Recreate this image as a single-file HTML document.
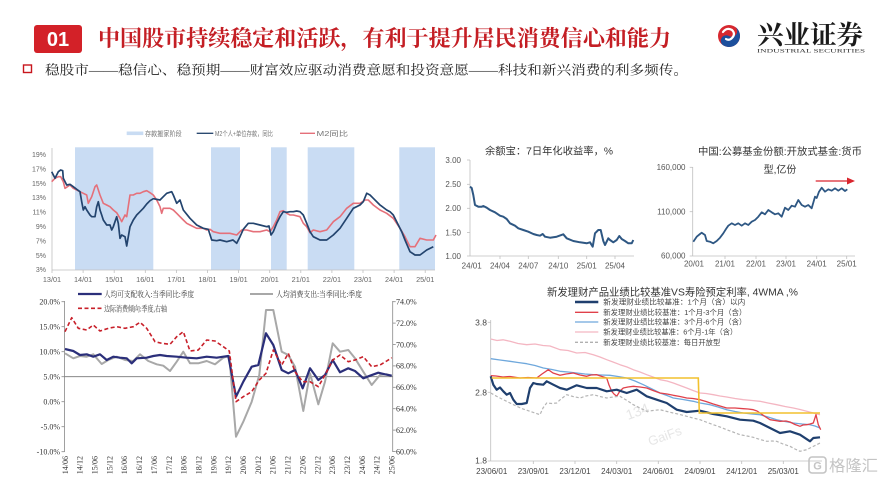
<!DOCTYPE html>
<html>
<head>
<meta charset="utf-8">
<style>
  html,body{margin:0;padding:0;background:#fff;}
  body{width:884px;height:483px;overflow:hidden;}
  svg{display:block;}
  .cj{font-family:"Liberation Sans","Noto Sans CJK SC",sans-serif;}
  .sf{font-family:"Liberation Serif","Noto Serif CJK SC",serif;}
</style>
</head>
<body>
<svg width="884" height="483" viewBox="0 0 884 483" xmlns="http://www.w3.org/2000/svg">
  <rect width="884" height="483" fill="#ffffff"/>

  <!-- ===== HEADER ===== -->
  <rect x="34" y="25" width="48" height="28" rx="3" fill="#d32128"/>
  <text x="58" y="46" text-anchor="middle" font-family="Liberation Sans, sans-serif" font-weight="bold" font-size="20" fill="#ffffff">01</text>
  <text x="98" y="46" font-family="Liberation Serif, 'Noto Serif CJK SC', serif" font-weight="bold" font-size="22" fill="#c41e24" textLength="573" lengthAdjust="spacingAndGlyphs">中国股市持续稳定和活跃，有利于提升居民消费信心和能力</text>

  <rect x="23.5" y="65" width="8" height="7.5" fill="none" stroke="#c8161d" stroke-width="1.4"/>
  <text x="45" y="74.5" font-family="Liberation Serif, 'Noto Serif CJK SC', serif" font-size="13" fill="#222" textLength="643" lengthAdjust="spacingAndGlyphs">稳股市——稳信心、稳预期——财富效应驱动消费意愿和投资意愿——科技和新兴消费的利多频传。</text>

  <!-- logo -->
  <g transform="translate(729,36)">
    <circle r="11" fill="#d7282f"/>
    <path d="M 0 -11 A 11 11 0 0 1 0 11 A 5.5 5.5 0 0 1 0 0 A 5.5 5.5 0 0 0 0 -11 Z" fill="#1c4f9c" transform="rotate(30)"/>
    <path d="M -6 -4 Q -2 -9 3 -6 Q 7 -2 3 2 Q 0 5 -3 3" fill="none" stroke="#ffffff" stroke-width="2.2" stroke-linecap="round"/>
  </g>
  <text x="757" y="44" font-family="Liberation Serif, 'Noto Serif CJK SC', serif" font-weight="bold" font-size="26" fill="#1a1a1a" textLength="106" lengthAdjust="spacingAndGlyphs">兴业证券</text>
  <text x="757" y="52.5" font-family="Liberation Serif, serif" font-size="5.6" fill="#333" textLength="108" lengthAdjust="spacingAndGlyphs">INDUSTRIAL SECURITIES</text>

  <!-- ===== TOP-LEFT CHART ===== -->
  <g>
    <rect x="126.7" y="131.5" width="16.6" height="3.6" fill="#c9dcf3"/>
    <text x="145" y="135.8" class="cj" font-size="7" fill="#777" textLength="36.7" lengthAdjust="spacingAndGlyphs">存款搬家阶段</text>
    <line x1="196.7" y1="133.3" x2="213.3" y2="133.3" stroke="#2b4a70" stroke-width="1.4"/>
    <text x="215" y="135.8" class="cj" font-size="7" fill="#777" textLength="58" lengthAdjust="spacingAndGlyphs">M2个人+单位存款，同比</text>
    <line x1="300" y1="133.3" x2="315" y2="133.3" stroke="#e5707a" stroke-width="1.4"/>
    <text x="316.5" y="135.8" class="cj" font-size="7" fill="#777" textLength="31.5" lengthAdjust="spacingAndGlyphs">M2同比</text>

    <g fill="#c9dcf3">
      <rect x="75" y="147.3" width="78.3" height="122.7"/>
      <rect x="211" y="147.3" width="29" height="122.7"/>
      <rect x="271" y="147.3" width="15.7" height="122.7"/>
      <rect x="307.7" y="147.3" width="46.6" height="122.7"/>
      <rect x="399.3" y="147.3" width="35.7" height="122.7"/>
    </g>
    <line x1="52" y1="148" x2="52" y2="270" stroke="#bfbfbf" stroke-width="0.8"/>
    <line x1="52" y1="270" x2="435" y2="270" stroke="#bfbfbf" stroke-width="0.8"/>
    <g stroke="#bfbfbf" stroke-width="0.8">
      <line x1="52" y1="270" x2="52" y2="273"/><line x1="83.1" y1="270" x2="83.1" y2="273"/>
      <line x1="114.2" y1="270" x2="114.2" y2="273"/><line x1="145.3" y1="270" x2="145.3" y2="273"/>
      <line x1="176.4" y1="270" x2="176.4" y2="273"/><line x1="207.5" y1="270" x2="207.5" y2="273"/>
      <line x1="238.6" y1="270" x2="238.6" y2="273"/><line x1="269.7" y1="270" x2="269.7" y2="273"/>
      <line x1="300.8" y1="270" x2="300.8" y2="273"/><line x1="331.9" y1="270" x2="331.9" y2="273"/>
      <line x1="363" y1="270" x2="363" y2="273"/><line x1="394.1" y1="270" x2="394.1" y2="273"/>
      <line x1="425.2" y1="270" x2="425.2" y2="273"/>
    </g>
    <g class="cj" font-size="7" fill="#666" text-anchor="end">
      <text x="46" y="156.8">19%</text>
      <text x="46" y="171.5">17%</text>
      <text x="46" y="185.8">15%</text>
      <text x="46" y="200.2">13%</text>
      <text x="46" y="214.5">11%</text>
      <text x="46" y="228.8">9%</text>
      <text x="46" y="243.5">7%</text>
      <text x="46" y="257.8">5%</text>
      <text x="46" y="272.2">3%</text>
    </g>
    <g class="cj" font-size="7.3" fill="#666" text-anchor="middle">
      <text x="52" y="282">13/01</text><text x="83.1" y="282">14/01</text>
      <text x="114.2" y="282">15/01</text><text x="145.3" y="282">16/01</text>
      <text x="176.4" y="282">17/01</text><text x="207.5" y="282">18/01</text>
      <text x="238.6" y="282">19/01</text><text x="269.7" y="282">20/01</text>
      <text x="300.8" y="282">21/01</text><text x="331.9" y="282">22/01</text>
      <text x="363" y="282">23/01</text><text x="394.1" y="282">24/01</text>
      <text x="425.2" y="282">25/01</text>
    </g>
    <polyline fill="none" stroke="#e5707a" stroke-width="1.6" stroke-linejoin="round" points="51.7,181.7 55,178.3 58.3,176.7 60.7,176.7 63.3,181.7 65,188.3 70,185 73.3,188.3 80,191.7 83.3,193.3 86.7,195 88.3,203.3 91.7,196.7 95,186.7 96.7,185 100,195 103.3,203.3 106.7,205 110,206.7 113.3,210 116.7,212.7 120,218.3 121.7,221.7 125,215 126.7,216.7 130,195 133.3,195 136.7,193.3 140,193.3 143.3,191.7 146.7,190.7 150,192.7 153.3,195 156.7,200 160,206.7 161.7,213.3 163.3,208.3 166.7,208.3 170,208.3 173.3,210 176.7,213.3 180,216.7 183.3,220 186.7,223.3 190,225 196.7,228.3 203.3,228.3 206.7,230 210,229.3 213.3,231.7 220,233.3 230,233.3 236.7,235 241.7,230 246.7,230 253.3,231.7 260,231.7 266.7,230 270,231.7 273.3,226.7 276.7,220 280,211.7 283.3,210.7 286.7,213.3 290,215 293.3,215 300,216.7 303.3,223.3 306.7,226.7 310,232.7 313.3,230 320,231.7 326.7,230 333.3,221.7 340,216.7 346.7,208.3 353.3,203.3 360,203.3 365,200 368.3,200 373.3,205 380,210 386.7,213.3 393.3,218.3 400,228.3 405,236.7 410,246.7 415,246.7 420,238.3 426.7,240 433.3,240 436,235"/>
    <polyline fill="none" stroke="#23446e" stroke-width="1.7" stroke-linejoin="round" points="51.7,171.7 55,178.3 58.3,171.7 60.7,170 62.7,170.7 63.3,178.3 66.7,185 70,184.3 73.3,186.7 76.7,189.3 80,191.7 81.7,201.7 83.3,210 85,206.7 86.7,210 90,215 91.7,216.7 95,216.7 96.7,206.7 98.3,201.7 100,210 101.7,215 103.3,220 106.7,225 110,225 111.7,230 113.3,226.7 115,221.7 116.7,216.7 118.3,223.3 120,238.3 121.7,235 125,236.7 126.7,246 128.3,236.7 130,226.7 133.3,220 136.7,215 140,211.7 143.3,208.3 146.7,204 150,200.7 153.3,198.7 160,200 163.3,196.7 166.7,193.3 171.7,191.7 173.3,195 176.7,203.3 180,200 183.3,210 190,218.3 196.7,225 203.3,228.3 208.3,229.3 211.7,240 216.7,240.7 220,240 226.7,241.7 233,240 236.7,243.3 240,236.7 243.3,229.3 248.3,223.3 253.3,223.3 260,225 266.7,226.7 269,226 271,235 273.3,231.7 276.7,223.3 280,216.7 283.3,211.7 286.7,212.3 290,211.7 293.3,211.7 296.7,211 300,211.7 303.3,215 306.7,223.3 310,231.7 313.3,236.7 320,240 326.7,240 333.3,235 340,228.3 346.7,218.3 353.3,208.3 360,205 363.3,201.7 366.7,193.3 370,195 373.3,198.3 380,205 386.7,210 390,211.7 393.3,215 396.7,221.7 401.7,231.7 405,240 410,251.7 415,255 420,255 426.7,250 433.3,246.7"/>
  </g>

  <!-- ===== BOTTOM-LEFT CHART ===== -->
  <g>
    <line x1="78" y1="294" x2="101.7" y2="294" stroke="#2b2f7a" stroke-width="2.2"/>
    <text x="104" y="297" class="sf" font-size="8" fill="#333" textLength="90" lengthAdjust="spacingAndGlyphs">人均可支配收入:当季同比:季度</text>
    <line x1="250" y1="294" x2="273" y2="294" stroke="#a8a8a8" stroke-width="2"/>
    <text x="276" y="297" class="sf" font-size="8" fill="#333" textLength="86" lengthAdjust="spacingAndGlyphs">人均消费支出:当季同比:季度</text>
    <line x1="78" y1="308.3" x2="101.7" y2="308.3" stroke="#c8202a" stroke-width="1.6" stroke-dasharray="4,2.5"/>
    <text x="104" y="311.3" class="sf" font-size="8" fill="#333" textLength="63" lengthAdjust="spacingAndGlyphs">边际消费倾向:季度,右轴</text>

    <line x1="64.5" y1="301" x2="64.5" y2="452" stroke="#888" stroke-width="0.8"/>
    <line x1="392.7" y1="301" x2="392.7" y2="452" stroke="#888" stroke-width="0.8"/>
    <line x1="64.5" y1="376.7" x2="392.7" y2="376.7" stroke="#777" stroke-width="0.8"/>
    <g stroke="#888" stroke-width="0.8">
      <line x1="61.5" y1="301.7" x2="64.5" y2="301.7"/><line x1="61.5" y1="326.7" x2="64.5" y2="326.7"/>
      <line x1="61.5" y1="351.7" x2="64.5" y2="351.7"/><line x1="61.5" y1="376.7" x2="64.5" y2="376.7"/>
      <line x1="61.5" y1="401.7" x2="64.5" y2="401.7"/><line x1="61.5" y1="426.7" x2="64.5" y2="426.7"/>
      <line x1="61.5" y1="451.7" x2="64.5" y2="451.7"/>
      <line x1="392.7" y1="301.7" x2="395.7" y2="301.7"/><line x1="392.7" y1="323.1" x2="395.7" y2="323.1"/>
      <line x1="392.7" y1="344.5" x2="395.7" y2="344.5"/><line x1="392.7" y1="365.9" x2="395.7" y2="365.9"/>
      <line x1="392.7" y1="387.3" x2="395.7" y2="387.3"/><line x1="392.7" y1="408.7" x2="395.7" y2="408.7"/>
      <line x1="392.7" y1="430.1" x2="395.7" y2="430.1"/><line x1="392.7" y1="451.5" x2="395.7" y2="451.5"/>
    </g>
    <g class="sf" font-size="8" fill="#333" text-anchor="end">
      <text x="60" y="304.5">20.0%</text>
      <text x="60" y="329.5">15.0%</text>
      <text x="60" y="354.5">10.0%</text>
      <text x="60" y="379.5">5.0%</text>
      <text x="60" y="404.5">0.0%</text>
      <text x="60" y="429.5">-5.0%</text>
      <text x="60" y="454.5">-10.0%</text>
    </g>
    <g class="sf" font-size="8" fill="#333">
      <text x="396" y="304.5">74.0%</text>
      <text x="396" y="325.9">72.0%</text>
      <text x="396" y="347.3">70.0%</text>
      <text x="396" y="368.7">68.0%</text>
      <text x="396" y="390.1">66.0%</text>
      <text x="396" y="411.5">64.0%</text>
      <text x="396" y="432.9">62.0%</text>
      <text x="396" y="454.3">60.0%</text>
    </g>
    <g class="sf" font-size="8" fill="#333" text-anchor="end">
      <text transform="translate(67.8,456) rotate(-90)">14/06</text>
      <text transform="translate(82.65,456) rotate(-90)">14/12</text>
      <text transform="translate(97.5,456) rotate(-90)">15/06</text>
      <text transform="translate(112.35,456) rotate(-90)">15/12</text>
      <text transform="translate(127.2,456) rotate(-90)">16/06</text>
      <text transform="translate(142.05,456) rotate(-90)">16/12</text>
      <text transform="translate(156.9,456) rotate(-90)">17/06</text>
      <text transform="translate(171.75,456) rotate(-90)">17/12</text>
      <text transform="translate(186.6,456) rotate(-90)">18/06</text>
      <text transform="translate(201.45,456) rotate(-90)">18/12</text>
      <text transform="translate(216.3,456) rotate(-90)">19/06</text>
      <text transform="translate(231.15,456) rotate(-90)">19/12</text>
      <text transform="translate(246,456) rotate(-90)">20/06</text>
      <text transform="translate(260.85,456) rotate(-90)">20/12</text>
      <text transform="translate(275.7,456) rotate(-90)">21/06</text>
      <text transform="translate(290.55,456) rotate(-90)">21/12</text>
      <text transform="translate(305.4,456) rotate(-90)">22/06</text>
      <text transform="translate(320.25,456) rotate(-90)">22/12</text>
      <text transform="translate(335.1,456) rotate(-90)">23/06</text>
      <text transform="translate(349.95,456) rotate(-90)">23/12</text>
      <text transform="translate(364.8,456) rotate(-90)">24/06</text>
      <text transform="translate(379.65,456) rotate(-90)">24/12</text>
      <text transform="translate(394.5,456) rotate(-90)">25/06</text>
    </g>
    <polyline fill="none" stroke="#a8a8a8" stroke-width="2" stroke-linejoin="round" points="65,353.3 73.3,358.3 80,356 86.7,356.7 93.3,354.3 101.7,364 108.3,360 116.7,356.7 125,360 133.3,361 140,354.3 148.3,361 156.7,364.3 163.3,365.7 170,371 176.7,361.7 183.3,351.7 190,363.3 198.3,363.3 206.7,361 215,364.3 223.3,357.7 229.3,356 236,436.7 243.3,421.7 251.7,401.7 259.3,375 266,310 273.3,310 281.7,351.7 288.3,355 295,366.7 303.3,411 310,373.3 318.3,404.3 325,381.7 332.7,343.3 340,351.7 348.3,350 355,358.3 363.3,371.7 371.7,385 380,375 386.7,374.3 391.7,375.7"/>
    <polyline fill="none" stroke="#2b2f7a" stroke-width="2.2" stroke-linejoin="round" points="65,349 73.3,351 80,355 86.7,354.3 93.3,356.7 100,354.3 106.7,360 113.3,356.7 120,357.7 126.7,358.3 131.7,363.3 136.7,358.3 146.7,357.7 153.3,356 160,355 166.7,356 176.7,356.7 186.7,357.7 196.7,358.3 206.7,356.7 216.7,357.7 223.3,356.7 228.3,356 236,396.7 243.3,381.7 251.7,366.7 258.3,365 266,333.3 273.3,345 281.7,370 288.3,373.3 295,370 302.7,388.3 310,368.3 318.3,380 325,375 332.7,360 340,372.3 348.3,368.3 355,371 363.3,378.3 370,375.7 378.3,372.7 385,374.3 391.7,375.7"/>
    <polyline fill="none" stroke="#c8202a" stroke-width="1.6" stroke-dasharray="4,2.5" stroke-linejoin="round" points="65,331.7 71.7,317.7 78.3,328.3 86.7,330 93.3,325 100,331 108.3,328.3 116.7,326.7 125,328.3 133.3,326.7 140,322.3 146.7,328.3 155,341.7 161.7,343.3 170,344.3 176.7,336.7 183.3,331.7 190,351 198.3,350 206.7,340 215,341 223.3,346.7 229.3,351 236,401.7 243.3,396.7 251.7,391.7 259.3,380 266,373.3 273.3,350 281.7,365 288.3,353.3 295,371.7 302.7,381.7 310,381.7 318.3,386.7 325,375 332.7,360 340,355 348.3,361.7 355,360 363.3,356.7 371.7,366.7 380,365 386.7,361 391.7,357.7"/>
  </g>

  <!-- ===== TOP-MIDDLE CHART (余额宝) ===== -->
  <g>
    <text x="549" y="154.5" text-anchor="middle" class="cj" font-size="10" fill="#333" textLength="128" lengthAdjust="spacingAndGlyphs">余额宝：7日年化收益率，%</text>
    <line x1="470" y1="160" x2="470" y2="256" stroke="#bfbfbf" stroke-width="0.8"/>
    <line x1="470" y1="256" x2="634" y2="256" stroke="#bfbfbf" stroke-width="0.8"/>
    <g stroke="#bfbfbf" stroke-width="0.8">
      <line x1="467" y1="160" x2="470" y2="160"/><line x1="467" y1="184.3" x2="470" y2="184.3"/>
      <line x1="467" y1="208.3" x2="470" y2="208.3"/><line x1="467" y1="232.5" x2="470" y2="232.5"/>
      <line x1="467" y1="256" x2="470" y2="256"/>
      <line x1="500" y1="256" x2="500" y2="259"/><line x1="528.3" y1="256" x2="528.3" y2="259"/>
      <line x1="558.3" y1="256" x2="558.3" y2="259"/><line x1="586.7" y1="256" x2="586.7" y2="259"/>
      <line x1="615" y1="256" x2="615" y2="259"/>
    </g>
    <g class="cj" font-size="8" fill="#555" text-anchor="end">
      <text x="461" y="162.8">3.00</text>
      <text x="461" y="187.1">2.50</text>
      <text x="461" y="211.1">2.00</text>
      <text x="461" y="235.3">1.50</text>
      <text x="461" y="258.8">1.00</text>
    </g>
    <g class="cj" font-size="8" fill="#555" text-anchor="middle">
      <text x="471.7" y="268.5">24/01</text>
      <text x="500" y="268.5">24/04</text>
      <text x="528.3" y="268.5">24/07</text>
      <text x="558.3" y="268.5">24/10</text>
      <text x="586.7" y="268.5">25/01</text>
      <text x="615" y="268.5">25/04</text>
    </g>
    <polyline fill="none" stroke="#2e5783" stroke-width="2" stroke-linejoin="round" points="470,186.7 471.7,188 473.3,195 475,205 478.3,206.7 481.7,206.7 483.3,206 486.7,207.7 490,210 495,212.3 500,215.7 503.3,216.7 506.7,219 510,223.3 515,225.7 518.3,228.3 523.3,230 528.3,231.7 533.3,234 536.7,235 540,235.7 542.7,234 545,236.7 550,237.7 556.7,236.7 563.3,234.3 566.7,238.3 573.3,241 580,242.3 586.7,243.3 590,242.3 592.7,246.7 595,233.3 598.3,230 600.7,230 603.3,241 605,245 608.3,238.3 610,240 613.3,242.3 616.7,240 619.3,236 621.7,239 625,241 628.3,243.3 631.7,243.3 633.3,240"/>
  </g>

  <!-- ===== TOP-RIGHT CHART ===== -->
  <g>
    <text x="780" y="155" text-anchor="middle" class="cj" font-size="10" fill="#333" textLength="164" lengthAdjust="spacingAndGlyphs">中国:公募基金份额:开放式基金:货币</text>
    <text x="780" y="173" text-anchor="middle" class="cj" font-size="10" fill="#333">型,亿份</text>
    <line x1="692.7" y1="167" x2="692.7" y2="256" stroke="#bfbfbf" stroke-width="0.8"/>
    <line x1="692.7" y1="256" x2="855" y2="256" stroke="#bfbfbf" stroke-width="0.8"/>
    <g stroke="#bfbfbf" stroke-width="0.8">
      <line x1="689.7" y1="167.3" x2="692.7" y2="167.3"/><line x1="689.7" y1="211.7" x2="692.7" y2="211.7"/>
      <line x1="689.7" y1="256" x2="692.7" y2="256"/>
      <line x1="725" y1="256" x2="725" y2="259"/><line x1="756" y1="256" x2="756" y2="259"/>
      <line x1="786" y1="256" x2="786" y2="259"/><line x1="816.7" y1="256" x2="816.7" y2="259"/>
      <line x1="846.7" y1="256" x2="846.7" y2="259"/>
    </g>
    <g class="cj" font-size="8" fill="#555" text-anchor="end">
      <text x="685.5" y="170">160,000</text>
      <text x="685.5" y="214.4">110,000</text>
      <text x="685.5" y="258.7">60,000</text>
    </g>
    <g class="cj" font-size="8" fill="#555" text-anchor="middle">
      <text x="694" y="266.5">20/01</text>
      <text x="725" y="266.5">21/01</text>
      <text x="756" y="266.5">22/01</text>
      <text x="786" y="266.5">23/01</text>
      <text x="816.7" y="266.5">24/01</text>
      <text x="846.7" y="266.5">25/01</text>
    </g>
    <polyline fill="none" stroke="#2e5783" stroke-width="1.8" stroke-linejoin="round" points="693.3,241.7 696.7,236.7 700,234 701.7,232.7 705,235 706.7,241 710,241.7 713.3,243.3 716.7,241 720,237.7 723.3,233.3 726,229 728.3,225.7 731.7,223.3 735,225 738.3,223.3 741.7,225.7 745,223.3 748.3,225 751.7,221.7 755,220 758.3,216.7 761.7,212.3 765,214.3 768.3,210 771.7,212.3 775,214.3 778.3,213.3 781.7,216.7 785,207.7 788.3,210 791.7,205.7 795,206.7 798.3,200 801.7,205 805,206.7 808.3,205 811.7,208.3 815,196.7 816.7,198 819,191.7 821.7,187.7 825,191.7 828.3,189.3 831.7,190.7 835,188.3 838.3,190.7 841.7,188.3 845,191 847.3,189.3"/>
    <line x1="815.7" y1="181" x2="849" y2="181" stroke="#d9252d" stroke-width="1.3"/>
    <polygon points="855,181 847,177.5 847,184.5" fill="#d9252d"/>
  </g>

  <!-- ===== BOTTOM-RIGHT CHART ===== -->
  <g>
    <text x="672.5" y="295.5" text-anchor="middle" class="cj" font-size="10.5" fill="#333" textLength="251" lengthAdjust="spacingAndGlyphs">新发理财产品业绩比较基准VS寿险预定利率, 4WMA ,%</text>
    <line x1="575" y1="302" x2="598.3" y2="302" stroke="#1f3f6e" stroke-width="2.4"/>
    <line x1="575" y1="312.3" x2="598.3" y2="312.3" stroke="#e0404a" stroke-width="1.3"/>
    <line x1="575" y1="322" x2="598.3" y2="322" stroke="#6fa8dc" stroke-width="1.3"/>
    <line x1="575" y1="332" x2="598.3" y2="332" stroke="#f4b6c2" stroke-width="1.3"/>
    <line x1="575" y1="342.3" x2="598.3" y2="342.3" stroke="#b0b0b0" stroke-width="1.3" stroke-dasharray="3,2"/>
    <g class="cj" font-size="7.5" fill="#444">
      <text x="603.3" y="304.7" textLength="142" lengthAdjust="spacingAndGlyphs">新发理财业绩比较基准：1个月（含）以内</text>
      <text x="603.3" y="315" textLength="143" lengthAdjust="spacingAndGlyphs">新发理财业绩比较基准：1个月-3个月（含）</text>
      <text x="603.3" y="324.7" textLength="143" lengthAdjust="spacingAndGlyphs">新发理财业绩比较基准：3个月-6个月（含）</text>
      <text x="603.3" y="334.7" textLength="134" lengthAdjust="spacingAndGlyphs">新发理财业绩比较基准：6个月-1年（含）</text>
      <text x="603.3" y="345" textLength="117" lengthAdjust="spacingAndGlyphs">新发理财业绩比较基准：每日开放型</text>
    </g>
    <line x1="490.7" y1="320" x2="490.7" y2="461" stroke="#bfbfbf" stroke-width="0.8"/>
    <line x1="490.7" y1="461" x2="822" y2="461" stroke="#bfbfbf" stroke-width="0.8"/>
    <g stroke="#bfbfbf" stroke-width="0.8">
      <line x1="487.7" y1="322.3" x2="490.7" y2="322.3"/><line x1="487.7" y1="392.3" x2="490.7" y2="392.3"/>
      <line x1="487.7" y1="461" x2="490.7" y2="461"/>
      <line x1="533.3" y1="461" x2="533.3" y2="464"/><line x1="575" y1="461" x2="575" y2="464"/>
      <line x1="616.7" y1="461" x2="616.7" y2="464"/><line x1="658.3" y1="461" x2="658.3" y2="464"/>
      <line x1="700" y1="461" x2="700" y2="464"/><line x1="741.7" y1="461" x2="741.7" y2="464"/>
      <line x1="783.3" y1="461" x2="783.3" y2="464"/>
    </g>
    <g class="cj" font-size="8.5" fill="#444" text-anchor="end">
      <text x="487" y="325.3">3.8</text>
      <text x="487" y="395.3">2.8</text>
      <text x="487" y="463.7">1.8</text>
    </g>
    <g class="cj" font-size="8" fill="#444" text-anchor="middle">
      <text x="491.7" y="474">23/06/01</text>
      <text x="533.3" y="474">23/09/01</text>
      <text x="575" y="474">23/12/01</text>
      <text x="616.7" y="474">24/03/01</text>
      <text x="658.3" y="474">24/06/01</text>
      <text x="700" y="474">24/09/01</text>
      <text x="741.7" y="474">24/12/01</text>
      <text x="783.3" y="474">25/03/01</text>
    </g>
    <text x="628" y="420" class="cj" font-size="14" fill="#e6e6e6" transform="rotate(-20,628,420)">134</text>
    <text x="650" y="446" class="cj" font-size="13" fill="#e6e6e6" transform="rotate(-20,650,446)">GaiFs</text>

    <polyline fill="none" stroke="#f4b6c2" stroke-width="1.3" stroke-linejoin="round" points="490.7,339 497,340.5 503,339.8 510,341.3 518,343.5 526.7,344.7 535,344 543,345.5 550,346 560,349.7 568,350.5 576.7,353 585,352.5 593.3,354.7 600,357 606.7,359.7 613,362 620,364.7 627,367 633.3,369.7 640,372 646.7,374.7 653,377 660,379.7 667,381 673.3,383 680,385.5 686.7,388 693,390.5 700,393 706,393.5 713.3,394.7 720,396 726.7,397 735,398.5 743.3,399.7 752,400.5 760,401.3 768,403 776.7,404.7 785,406.5 793.3,408 800,409.5 806.7,411.3 813.3,413 820,414.7"/>
    <polyline fill="none" stroke="#6fa8dc" stroke-width="1.3" stroke-linejoin="round" points="490.7,358.7 500,360 510,361.3 518,362.5 526.7,363.7 535,365.5 543.3,368 552,369.5 560,371.3 568,372 576.7,373 585,374 593.3,374.7 601,375 610,375.3 618,376.5 626.7,378 635,381 643.3,384.7 652,389 660,393 667,395.5 673.3,398 683,399.5 693.3,401.3 700,403 710,404.7 718,407 726.7,409.7 735,411.5 743.3,413 752,414 760,414.7 768,417 776.7,419.7 785,421.5 793.3,423 802,424 810,424.7 815,426 820,428"/>
    <polyline fill="none" stroke="#e0404a" stroke-width="1.3" stroke-linejoin="round" points="490.7,375.7 496,376 503,377 510,376.5 520,378 528,377.5 536.7,378 542,374 548.3,369.7 553,373 560,375.3 566,374 573.3,373 580,375 586.7,376.3 591,375 596.7,374.7 602,376.5 606.7,378 609,385 611.7,391.3 614,394 616.7,396.3 620,391 623.3,388 628,387 633.3,386.3 640,387 646.7,388 653,390.5 660,393 667,394 673.3,395.3 680,396.5 686.7,398 693,398.5 700,399.7 706,401.5 713.3,404 720,406 726.7,408 735,408 743.3,408.7 748,409 753.3,409.7 757,411 760,413 765,416.5 770,419.7 775,420.5 780,421.3 786,421 790,422 795,424.5 800,426.3 803,425 806.7,424.7 810,424 813.3,423 816,414.7 818.3,424.7 820.7,429.7"/>
    <polyline fill="none" stroke="#b5b5b5" stroke-width="1.2" stroke-dasharray="3,2" stroke-linejoin="round" points="490.7,393 497,396.5 503.3,399.7 510,403 516.7,406.3 523,409 530,411.3 535,413 540,414.7 543,408 546.7,403 552,403.5 556.7,403 561,399 566.7,394.7 573,396.5 580,398 586,396 593.3,394.7 600,396.5 606.7,398 613,397 620,396.3 627,400.5 633.3,404.7 640,408 646.7,411.3 653,410.5 660,409.7 667,411.5 673.3,413 680,414.5 686.7,416.3 693,418 700,419.7 706,422 713.3,424.7 720,427 726.7,429.7 733,432 740,434.7 747,436 753.3,437.3 760,439.5 766.7,441.3 772,441 776.7,441.3 783,444 790,446.3 795,449 800,451.3 803,450.5 806.7,449.7 812,447 816.7,444.7 820,443"/>
    <polyline fill="none" stroke="#1f3f6e" stroke-width="2.2" stroke-linejoin="round" points="490.7,376.3 493.3,384.7 496.7,389.7 500,387.5 503.3,391.3 506.7,394.7 510,393 513.3,399.7 516.7,404 521.7,404 526.7,403 530,388 533.3,383 536.7,384 543.3,384.7 546.7,381.3 553.3,384.7 560,388 566.7,389.7 576.7,385.3 586.7,388 596.7,388 606.7,391.3 616.7,389.7 626.7,393 636.7,389.7 646.7,396.3 656.7,399.7 666.7,403 676.7,409.7 686.7,412 700,410.7 713.3,414 726.7,416.3 740,419.7 753.3,420.7 760,423 770,428 780,433 790,431.3 800,434.7 810,441.3 813.3,438 820,437.3"/>
    <polyline fill="none" stroke="#f2c12e" stroke-width="1.6" points="491.7,378 698.3,378 699.3,413 820,413"/>
  </g>

  <!-- 格隆汇 watermark logo -->
  <g>
    <rect x="809" y="457" width="17" height="16" rx="3" fill="none" stroke="#c4c4c4" stroke-width="1.6"/>
    <text x="817.5" y="469.5" text-anchor="middle" font-family="Liberation Sans, sans-serif" font-weight="bold" font-size="11" fill="#c4c4c4">G</text>
    <text x="829" y="471" class="cj" font-size="15.5" fill="#c4c4c4" textLength="49" lengthAdjust="spacingAndGlyphs">格隆汇</text>
  </g>
</svg>
</body>
</html>
